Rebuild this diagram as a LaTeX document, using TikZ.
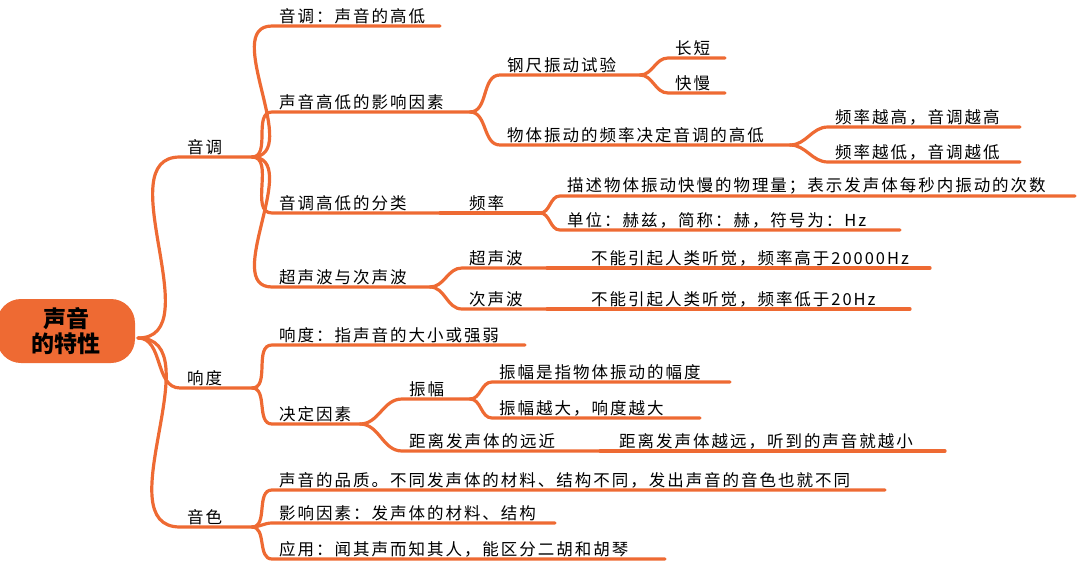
\documentclass[tikz,border=0pt]{standalone}
\usepackage{fontspec}
\setmainfont{Noto Sans CJK SC}
\newfontfamily\txtfont[LetterSpace=12]{Noto Sans CJK SC}
\definecolor{org}{HTML}{EE6A33}
\newcommand{\br}[6]{%
 \coordinate (#2-s) at (#3,#4);
 \coordinate (#2-e) at ({#3+#5},#4);
 \draw[ln] (#1) to[out=0,in=180] (#2-s) -- (#2-e);
 \node[txt] (#2) at ({#3+6},{#4-1}) {#6};}
\begin{document}
\begin{tikzpicture}[x=1pt,y=-1pt,
 ln/.style={draw=org,line width=3.2pt,line cap=round},
 txt/.style={anchor=south west,inner sep=1pt,font=\txtfont\fontsize{16.5}{18}\selectfont}]
\useasboundingbox (0,0) rectangle (1080,562);
\node[fill=org,rounded corners=24pt,minimum width=138pt,minimum height=64pt,align=center,
 font=\fontsize{23}{25}\selectfont\bfseries,inner sep=0pt] (root) at (66,331) {声音\\的特性};
\coordinate (r) at (138,338);
\br{r}{yd}{180}{157}{72}{音调}
\br{r}{xd}{180}{388}{72}{响度}
\br{r}{ys}{180}{527}{72}{音色}
\br{yd-e}{a1}{272}{26}{168}{音调：声音的高低}
\br{yd-e}{a2}{272}{112}{198}{声音高低的影响因素}
\br{yd-e}{a3}{272}{213}{168}{音调高低的分类}
\br{yd-e}{a4}{272}{287}{158}{超声波与次声波}
\br{a2-e}{b1}{500}{75}{140}{钢尺振动试验}
\br{a2-e}{b2}{500}{145}{290}{物体振动的频率决定音调的高低}
\br{b1-e}{c1}{668}{58}{57}{长短}
\br{b1-e}{c2}{668}{93}{57}{快慢}
\br{b2-e}{c3}{828}{127}{192}{频率越高，音调越高}
\br{b2-e}{c4}{828}{162}{192}{频率越低，音调越低}
\br{a3-e}{b3}{462}{213}{78}{频率}
\br{b3-e}{c5}{560}{196}{515}{描述物体振动快慢的物理量；表示发声体每秒内振动的次数}
\br{b3-e}{c6}{560}{230}{340}{单位：赫兹，简称：赫，符号为：Hz}
\br{a4-e}{b4}{462}{268}{85}{超声波}
\br{a4-e}{b5}{462}{309}{85}{次声波}
\br{b4-e}{c7}{572}{268}{358}{\hspace{12pt}不能引起人类听觉，频率高于20000Hz}
\br{b5-e}{c8}{572}{309}{338}{\hspace{12pt}不能引起人类听觉，频率低于20Hz}
\br{xd-e}{a5}{272}{345}{253}{响度：指声音的大小或强弱}
\br{xd-e}{a6}{272}{424}{88}{决定因素}
\br{a6-e}{b6}{402}{399}{68}{振幅}
\br{a6-e}{b7}{402}{451}{198}{距离发声体的远近}
\br{b6-e}{c9}{492}{382}{238}{振幅是指物体振动的幅度}
\br{b6-e}{c10}{492}{418}{208}{振幅越大，响度越大}
\br{b7-e}{c11}{600}{451}{345}{\hspace{12pt}距离发声体越远，听到的声音就越小}
\br{ys-e}{a7}{272}{490}{613}{声音的品质。不同发声体的材料、结构不同，发出声音的音色也就不同}
\br{ys-e}{a8}{272}{523}{283}{影响因素：发声体的材料、结构}
\br{ys-e}{a9}{272}{559}{393}{应用：闻其声而知其人，能区分二胡和胡琴}
\end{tikzpicture}
\end{document}
